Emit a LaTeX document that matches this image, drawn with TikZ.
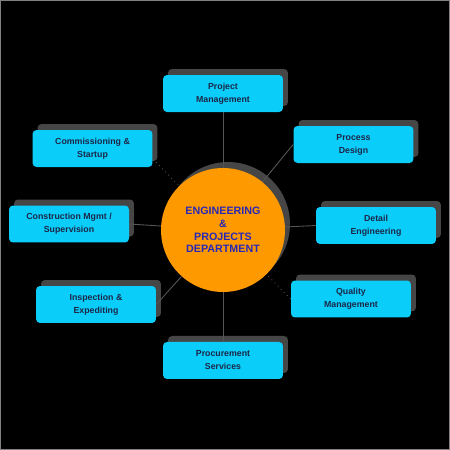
\documentclass[tikz,border=0pt]{standalone}
\usepackage{fontspec}
\setmainfont{Liberation Sans}
\usetikzlibrary{shadows}
\definecolor{DeptCyan}{RGB}{10,205,250}
\definecolor{DeptOrange}{RGB}{255,153,0}
\definecolor{DeptShadow}{RGB}{70,70,70}
\definecolor{BoxText}{RGB}{28,38,70}
\definecolor{HubText}{RGB}{40,40,185}
\definecolor{LinkGray}{RGB}{85,85,85}

\begin{document}
\begin{tikzpicture}[x=0.02cm, y=-0.02cm,
  every node/.style={font=\bfseries\fontsize{5}{7.4}\selectfont, align=center},
  deptbox/.style={rounded corners=0.08cm, fill=DeptCyan, text=BoxText, minimum width=2.4cm, minimum height=0.74cm, inner sep=1pt,
    drop shadow={shadow xshift=0.1cm, shadow yshift=0.12cm, fill=DeptShadow, opacity=1}},
  link/.style={LinkGray, line width=0.5pt}]
  \fill[black] (0,0) rectangle (450,450);
  \draw[gray, line width=0.6pt] (0.5,0.5) rectangle (449.5,449.5);
  \useasboundingbox (0,0) rectangle (450,450);
  % centre
  \node[circle, fill=DeptOrange, text=HubText, minimum size=2.48cm, inner sep=0pt, font=\bfseries\fontsize{6.1}{7.2}\selectfont,
    drop shadow={shadow xshift=0.1cm, shadow yshift=0.12cm, fill=DeptShadow, opacity=1}] (eng) at (223,230) {ENGINEERING\\\&\\PROJECTS\\DEPARTMENT};
  % boxes
  \node[deptbox] (pm) at (223,93.5) {Project\\Management};
  \node[deptbox] (pd) at (353.5,144.5) {Process\\Design};
  \node[deptbox] (de) at (376,225.5) {Detail\\Engineering};
  \node[deptbox] (qm) at (351,299) {Quality\\Management};
  \node[deptbox] (ps) at (223,360.5) {Procurement\\Services};
  \node[deptbox] (ie) at (96,304.5) {Inspection \&\\Expediting};
  \node[deptbox] (cm) at (69,224) {Construction Mgmt /\\Supervision};
  \node[deptbox] (cs) at (92.5,148.5) {Commissioning \&\\Startup};
  % links
  \draw[link] (pm.south) -- (eng);
  \draw[link] (pd.west) -- (eng);
  \draw[link] (de.west) -- (eng);
  \draw[link, dotted] (qm.west) -- (eng);
  \draw[link] (ps.north) -- (eng);
  \draw[link] (ie.east) -- (eng);
  \draw[link] (cm.east) -- (eng);
  \draw[link, dotted] (cs.-10) -- (eng);
\end{tikzpicture}
\end{document}
